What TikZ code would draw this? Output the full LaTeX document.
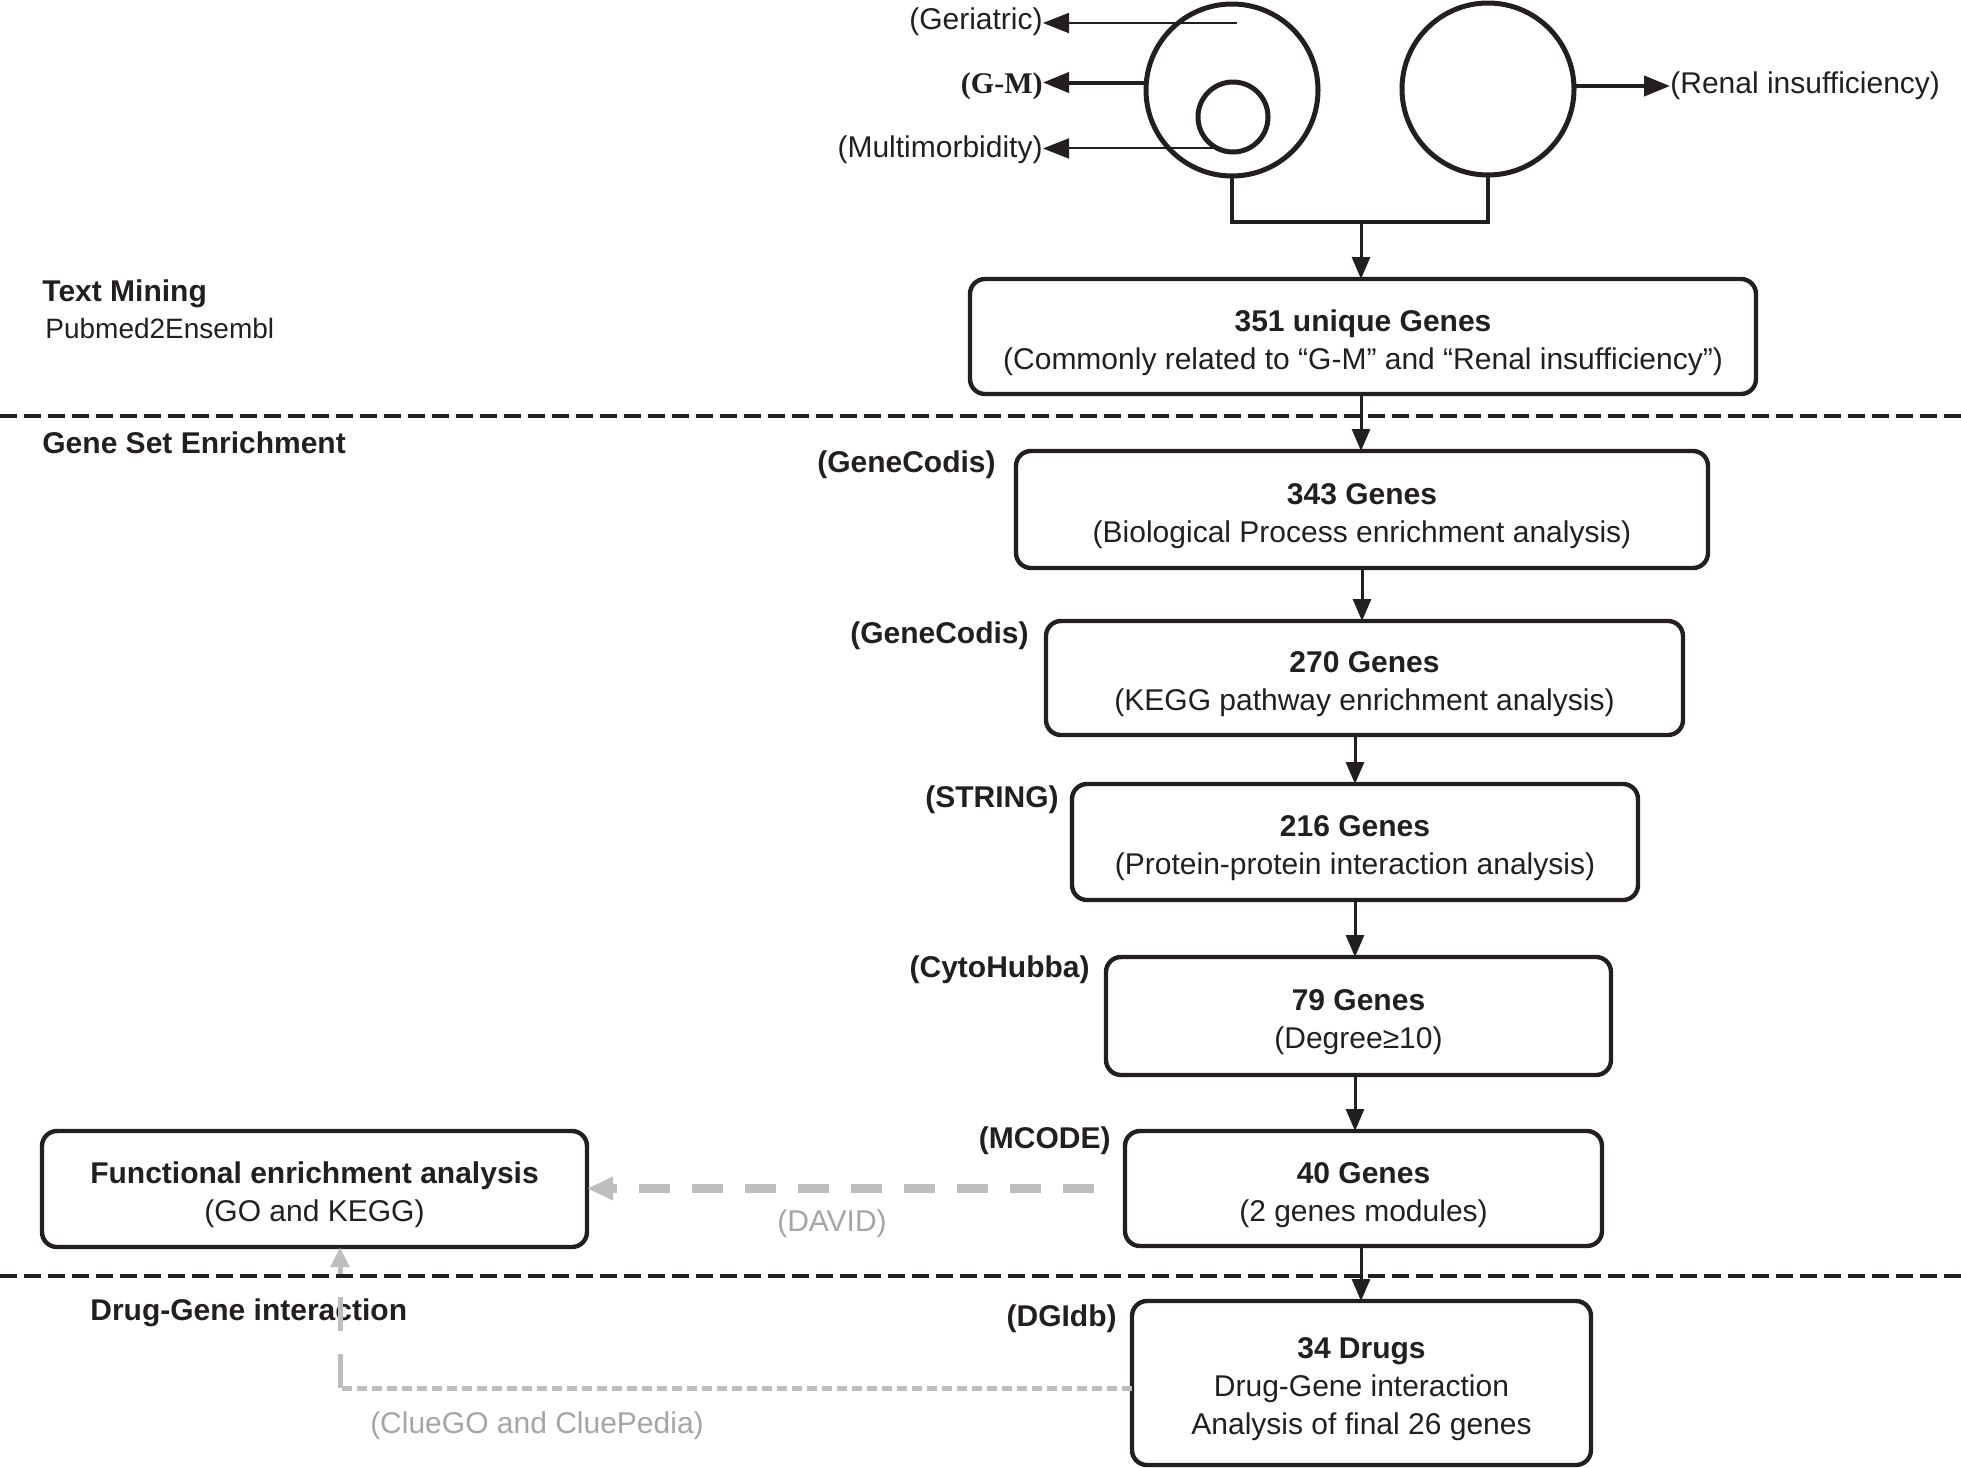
\documentclass[tikz,border=0pt]{standalone}
\usepackage{fontspec}
\setmainfont{Liberation Sans}
\newfontfamily\gmserif{Liberation Serif}
\usetikzlibrary{arrows.meta,calc}
\definecolor{ink}{RGB}{35,31,32}
\definecolor{lgrey}{RGB}{190,190,190}
\definecolor{tgrey}{RGB}{165,165,165}
\newcommand{\topstrut}{\rule{0pt}{17pt}}
\begin{document}
\begin{tikzpicture}[x=0.5pt,y=-0.5pt,
  font=\fontsize{15pt}{19pt}\selectfont,
  box/.style={draw=ink, line width=2.2pt, rounded corners=7.5pt, align=center,
    inner sep=0pt, outer sep=0pt, text=ink},
  lab/.style={font=\fontsize{15pt}{19pt}\selectfont\bfseries, text=ink, inner sep=0pt, anchor=east},
  plain/.style={text=ink, inner sep=0pt},
  sect/.style={font=\fontsize{15pt}{19pt}\selectfont\bfseries, text=ink, inner sep=0pt, anchor=west},
  ring/.style={circle, draw=ink, line width=2.5pt, inner sep=0pt, outer sep=0pt},
  arr/.style={draw=ink, line width=1.5pt, -{Triangle[length=11pt,width=9pt]}},
  thinarr/.style={draw=ink, line width=1pt, -{Triangle[length=13pt,width=10pt]}},
  midarr/.style={draw=ink, line width=2pt, -{Triangle[length=13pt,width=10pt]}},
  sep/.style={draw=ink, line width=2pt, dash pattern=on 8.5pt off 3.5pt},
  david/.style={draw=lgrey, line width=4.5pt, dash pattern=on 15.5pt off 11pt,
    -{Triangle[length=13pt,width=11pt]}},
  clueh/.style={draw=lgrey, line width=2.5pt, dash pattern=on 5pt off 2.5pt},
  cluev/.style={draw=lgrey, line width=2.5pt, dash pattern=on 17pt off 11.5pt,
    -{Triangle[length=10pt,width=9pt]}},
  greytext/.style={text=tgrey, inner sep=0pt}
]
\useasboundingbox (0,0) rectangle (1961,1468);

% ---- circles ----
\node[ring, minimum size=86pt] (cL) at (1232,90) {};
\node[ring, minimum size=35pt] (cI) at (1233,117) {};
\node[ring, minimum size=86pt] (cR) at (1488,89) {};

% ---- left labels ----
\node[plain, anchor=east] (ger) at (1043,22) {(Geriatric)};
\node[plain, anchor=east, font=\fontsize{15pt}{19pt}\gmserif\bfseries] (gm) at (1043,86) {(G-M)};
\node[plain, anchor=east] (mul) at (1043,150) {(Multimorbidity)};
\node[plain, anchor=west] (ren) at (1670,86) {(Renal insufficiency)};

\coordinate (gs) at (1237,23);
\draw[thinarr] (gs) -- (ger.east |- gs);
\draw[midarr] (cL.175) -- (gm.east |- cL.175);
\draw[thinarr] (cI.244) -- (mul.east |- cI.244);
\draw[midarr] (cR.2) -- (ren.west |- cR.2);

% ---- boxes ----
\node[box, minimum width=393pt, minimum height=57.5pt] (b1) at (1363,336.5)
  {\topstrut{\bfseries 351 unique Genes}\\(Commonly related to “G-M” and “Renal insufficiency”)};
\node[box, minimum width=346pt, minimum height=58.5pt] (b2) at (1362,509.5)
  {\topstrut{\bfseries 343 Genes}\\(Biological Process enrichment analysis)};
\node[box, minimum width=318.5pt, minimum height=57pt] (b3) at (1364.5,678)
  {\topstrut{\bfseries 270 Genes}\\(KEGG pathway enrichment analysis)};
\node[box, minimum width=283pt, minimum height=58pt] (b4) at (1355,842)
  {\topstrut{\bfseries 216 Genes}\\(Protein-protein interaction analysis)};
\node[box, minimum width=252.5pt, minimum height=59pt] (b5) at (1358.5,1016)
  {\topstrut{\bfseries 79 Genes}\\(Degree≥10)};
\node[box, minimum width=238.5pt, minimum height=57.5pt] (b6) at (1363.5,1188.5)
  {\topstrut{\bfseries 40 Genes}\\(2 genes modules)};
\node[box, minimum width=229.5pt, minimum height=82pt] (b7) at (1361.5,1383)
  {\topstrut{\bfseries 34 Drugs}\\Drug-Gene interaction\\Analysis of final 26 genes};
\node[box, minimum width=272.5pt, minimum height=58pt] (bF) at (314.5,1189)
  {\topstrut{\bfseries Functional enrichment analysis}\\(GO and KEGG)};

% ---- tool labels ----
\node[lab] (l2) at (996,465) {(GeneCodis)};
\node[lab] (l3) at (1029,636) {(GeneCodis)};
\node[lab] (l4) at (1059,800) {(STRING)};
\node[lab] (l5) at (1090,970) {(CytoHubba)};
\node[lab] (l6) at (1111,1141) {(MCODE)};
\node[lab] (l7) at (1117,1319) {(DGIdb)};

% ---- section labels ----
\node[sect] (tm) at (42,294) {Text Mining};
\node[plain, anchor=west, font=\fontsize{14pt}{18pt}\selectfont] (pe) at (45,328) {Pubmed2Ensembl};
\node[sect] (gse) at (42,443) {Gene Set Enrichment};
\node[sect] (dgi) at (90,1313) {Drug-Gene interaction};

% ---- separators ----
\draw[sep] (0,416) -- (1961,416);
\draw[sep] (0,1276) -- (1961,1276);

% ---- join from circles ----
\coordinate (jn) at (1361,222);
\draw[draw=ink, line width=2pt] (cL.south) -- (cL.south |- jn) -- (cR.south |- jn) -- (cR.south);
\draw[arr] (jn) -- (jn |- b1.north);

% ---- flow arrows ----
\draw[arr] (b1.south -| jn) -- (jn |- b2.north);
\draw[arr] (b2.south) -- (b2.south |- b3.north);
\draw[arr] (b3.south -| b4.north) -- (b4.north);
\draw[arr] (b4.south) -- (b4.south |- b5.north);
\draw[arr] (b5.south -| b4.south) -- (b4.south |- b6.north);
\draw[arr] (b6.south -| jn) -- (jn |- b7.north);

% ---- grey connectors ----
\draw[david] ([xshift=-15.5pt]b6.west) -- (bF.east |- b6.west);
\node[greytext] (dav) at (832,1224) {(DAVID)};

\coordinate (cc) at (340,1388);
\draw[clueh] (b7.west |- cc) -- (cc);
\draw[cluev] (cc) -- (cc |- bF.south);
\node[greytext] (clue) at (537,1426) {(ClueGO and CluePedia)};
\end{tikzpicture}
\end{document}
